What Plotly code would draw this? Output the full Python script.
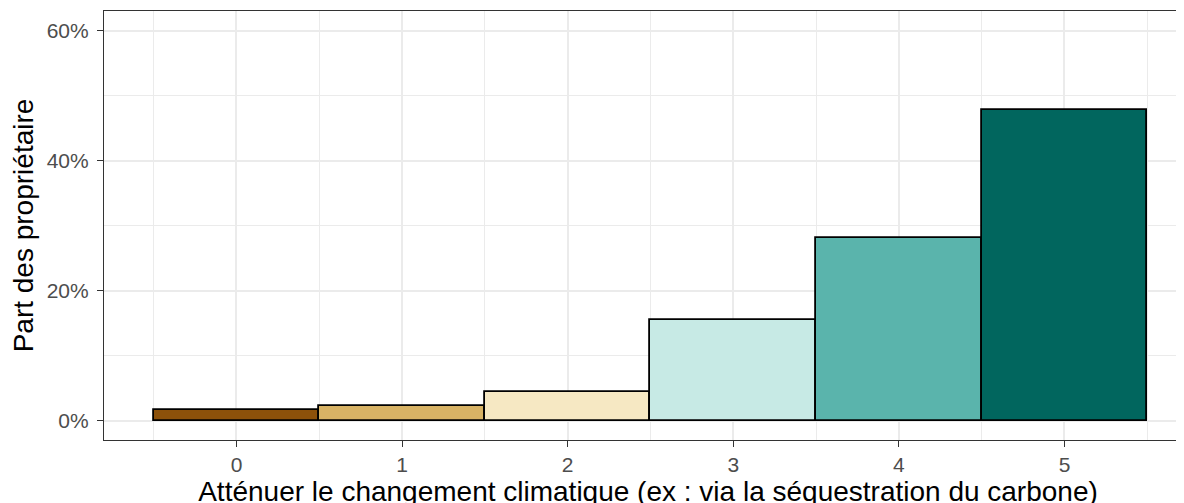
import plotly.graph_objects as go

categories = [0, 1, 2, 3, 4, 5]
shares = [1.6, 2.2, 4.35, 15.4, 28.15, 47.7]
colors = ["#8C510A", "#D8B365", "#F6E8C3", "#C7EAE5", "#5AB4AC", "#01665E"]
y_ticks = [0, 20, 40, 60]
y_ticklabels = ["0%", "20%", "40%", "60%"]

fig = go.Figure()
fig.add_trace(go.Bar(
    x=categories, y=shares, width=1,
    marker=dict(color=colors, line=dict(color="black", width=1.8)),
    showlegend=False,
))

grid = "#EBEBEB"
fig.update_layout(
    width=1184, height=503,
    margin=dict(l=96, r=0, t=3, b=71, autoexpand=False),
    paper_bgcolor="white", plot_bgcolor="white",
    font=dict(family="Liberation Sans, Arial, sans-serif"),
    bargap=0,
    xaxis=dict(
        range=[-0.8, 5.77], tickvals=categories, ticktext=[str(c) for c in categories],
        showgrid=True, gridcolor=grid, gridwidth=1.5,
        minor=dict(tickvals=[-0.5, 0.5, 1.5, 2.5, 3.5, 4.5, 5.5], showgrid=True, gridcolor=grid, gridwidth=0.8, ticks=""),
        ticks="outside", ticklen=6, tickcolor="#333333", tickwidth=1.2,
        tickfont=dict(size=21, color="#4D4D4D"),
        showline=True, linecolor="#333333", linewidth=1.2, mirror=True,
        zeroline=False, automargin=False,
        title=dict(text="Atténuer le changement climatique (ex : via la séquestration du carbone)",
                   font=dict(size=28, color="black"), standoff=0),
    ),
    yaxis=dict(
        range=[-3, 63], tickvals=y_ticks, ticktext=y_ticklabels,
        showgrid=True, gridcolor=grid, gridwidth=1.5,
        minor=dict(tickvals=[10, 30, 50], showgrid=True, gridcolor=grid, gridwidth=0.8, ticks=""),
        ticks="outside", ticklen=6, tickcolor="#333333", tickwidth=1.2,
        ticklabelstandoff=4,
        tickfont=dict(size=21, color="#4D4D4D"),
        showline=True, linecolor="#333333", linewidth=1.2, mirror=False,
        zeroline=False, automargin=False,
        title=dict(text="Part des propriétaire", font=dict(size=28, color="black"), standoff=6),
    ),
)

fig.write_html("out.html")
